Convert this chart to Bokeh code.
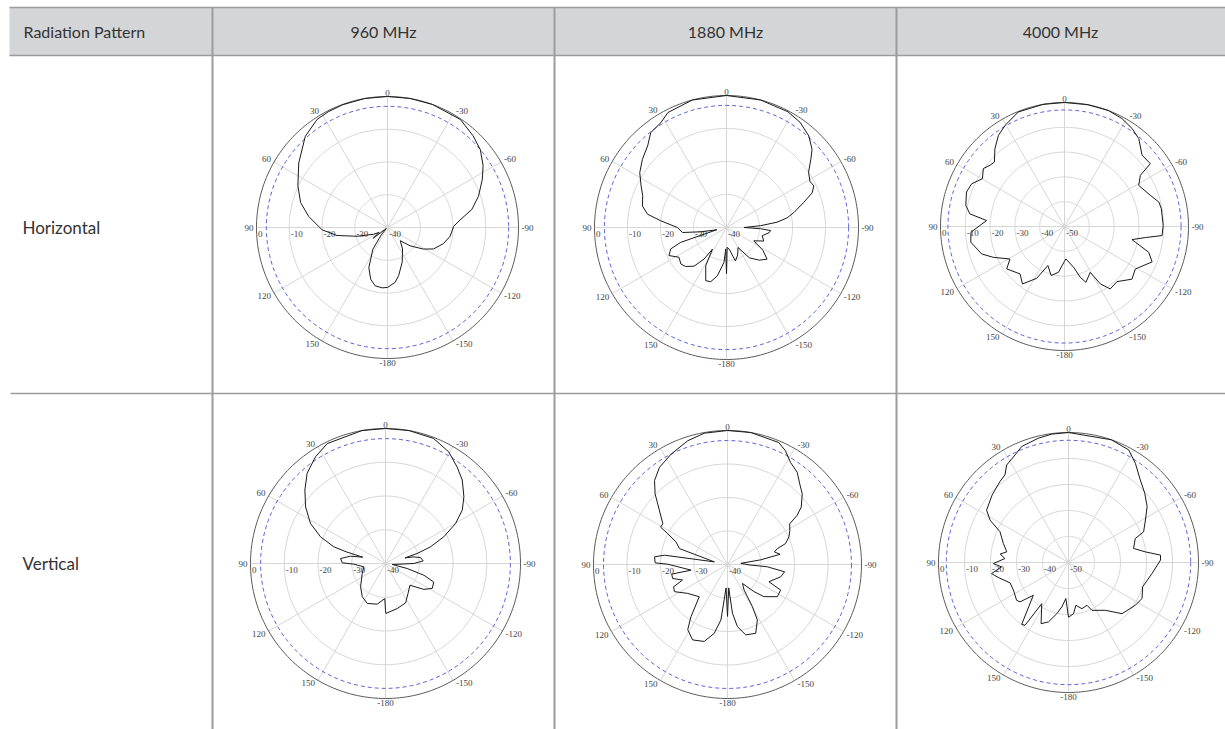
import numpy as np
from bokeh.plotting import figure
from bokeh.models import Range1d
from bokeh.embed import file_html
from bokeh.resources import INLINE
from bokeh.core.properties import value

# ---------------- data ----------------
header_labels = ["Radiation Pattern", "960 MHz", "1880 MHz", "4000 MHz"]
row_labels = ["Horizontal", "Vertical"]

angle_ticks = [0, 30, 60, 90, 120, 150, -180, -150, -120, -90, -60, -30]
angle_tick_labels = ["0", "30", "60", "90", "120", "150", "-180", "-150", "-120", "-90", "-60", "-30"]
radial_ticks_40 = [0, -10, -20, -30, -40]
radial_ticks_50 = [0, -10, -20, -30, -40, -50]

# 960 MHz horizontal (angle in degrees, counter-clockwise from top; gain in dB)
h960_deg = [-180, -172, -167, -157, -145, -136, -129, -121, -115, -106, -98, -89, -84, -78, -71, -63, -57, -50,
            -43, -34, -20, -10, 0, 10, 20, 27, 33, 42, 54, 65, 74, 82, 92, 99, 106, 116, 120, 127, 131, 140,
            146, 152, 155, 162, 168, 175, 180]
h960_db = [-21.7, -23.1, -24.9, -28.5, -32.0, -34.4, -31.1, -27.2, -24.5, -22.2, -20.7, -19.8, -17.7, -13.7,
           -10.6, -7.5, -5.2, -3.0, -1.7, -0.2, 0.0, 0.0, 0.0, 0.0, -0.1, -0.3, -0.6, -2.5, -6.5, -9.8, -12.4,
           -15.7, -20.0, -24.4, -30.3, -35.3, -37.0, -34.5, -39.5, -37.0, -32.0, -29.1, -26.5, -23.4, -21.8,
           -21.5, -21.7]

# 1880 MHz horizontal
h1880_deg = [-180, -178, -173, -165, -158, -150, -143, -135, -128, -122, -116, -110, -103, -97, -94, -92, -90,
             -87, -84, -81, -77.5, -72, -68, -64.5, -61, -56, -51, -47.6, -42, -35, -28, -15, 0, 15, 27, 32,
             38.6, 44, 51, 57.7, 64, 69, 75.6, 80.4, 84.2, 90, 96.5, 99.5, 103, 108, 111, 116, 122, 128.7,
             133.7, 140, 144.6, 147, 151.5, 158.7, 163.8, 169.3, 175.9, 178, 180]
h1880_db = [-26.0, -34.0, -33.4, -29.5, -31.0, -33.0, -28.5, -26.0, -24.4, -27.0, -30.8, -28.0, -28.9, -27.0,
            -26.6, -29.7, -34.7, -29.7, -24.6, -21.4, -19.1, -15.4, -12.0, -10.7, -11.1, -10.0, -7.1, -4.9,
            -2.7, -1.1, -0.3, 0.0, 0.0, 0.0, -0.9, -2.5, -3.2, -5.6, -7.2, -8.9, -11.2, -12.8, -13.7, -15.7,
            -20.0, -25.1, -26.6, -32.1, -37.0, -25.4, -21.9, -20.6, -23.0, -22.3, -22.9, -24.7, -28.3, -32.2,
            -26.8, -22.7, -22.9, -25.1, -29.4, -33.5, -26.0]

# 4000 MHz horizontal
h4000_deg = [-180, -177.6, -167.5, -162.8, -159, -150.7, -148, -143.8, -136.4, -128, -121, -112, -107, -102.5,
             -101, -97.8, -95.3, -89.4, -79.6, -75.5, -70, -61, -56, -53.8, -47.4, -40.2, -34.6, -28, -20.8,
             -11, 0, 10, 22, 30.4, 35.9, 41.8, 47.4, 50.6, 54.5, 59.8, 65.3, 70.6, 77.9, 82.4, 85.6, 89.3, 93.5,
             99.5, 108.3, 113.4, 120.8, 126.3, 136.9, 143.8, 151.8, 156.9, 164.8, 172.5, 180]
h4000_db = [-36.0, -36.9, -33.2, -28.6, -25.9, -28.8, -22.7, -18.8, -19.3, -15.5, -16.7, -11.9, -14.5, -20.7,
            -22.3, -17.1, -10.5, -10.2, -10.3, -10.7, -13.2, -15.8, -13.1, -7.1, -7.5, -3.6, -2.0, -0.7, 0.0,
            0.0, 0.0, 0.0, -0.2, -2.7, -4.6, -7.9, -11.6, -11.1, -9.8, -11.7, -8.8, -8.1, -9.3, -11.5, -18.5,
            -15.9, -12.2, -11.7, -14.8, -18.7, -24.4, -21.1, -23.8, -21.3, -26.3, -32.9, -29.5, -31.4, -36.0]

# 960 MHz vertical
v960_deg = [-180, -179.5, -165.5, -153, -143, -131.7, -124, -118, -111, -107, -103, -98, -93, -90, -86, -80.3,
            -76.5, -74, -72.5, -69.7, -65.4, -60.3, -55.2, -49.6, -42.6, -36.6, -29.6, -21, -10, 0, 10, 25.9,
            33.3, 41, 47.7, 54.7, 61.9, 67.7, 72.1, 73.5, 74.5, 78.2, 83.7, 89.1, 91.2, 98.7, 113.2, 133, 145,
            155.4, 168.4, 178.9, 180]
v960_db = [-26.0, -25.2, -26.2, -26.9, -28.9, -30.3, -26.3, -24.3, -24.7, -28.1, -33.4, -38.0, -36.0, -31.6,
           -28.8, -29.5, -31.6, -34.0, -30.2, -25.8, -21.0, -16.1, -12.3, -9.5, -6.4, -4.4, -2.0, -0.3, 0.0, 0.0,
           0.0, -0.5, -2.2, -4.6, -7.7, -11.0, -14.8, -19.2, -23.9, -28.0, -33.0, -29.4, -26.6, -27.2, -30.6,
           -33.5, -32.5, -29.9, -28.0, -27.0, -27.7, -29.6, -26.0]

# 1880 MHz vertical
v1880_deg = [-180, -177, -174.2, -170.9, -165.5, -157.7, -151.7, -149.4, -147, -141.7, -135.7, -131.4, -122.9,
             -115.7, -112.6, -103, -97.3, -93.3, -91, -85, -82, -79, -75, -72.3, -70.2, -65.8, -61.3, -56.8,
             -54.8, -52.1, -46.6, -41.9, -37.1, -31.7, -27, -22.8, -10, 0, 10, 17.8, 27, 35, 41, 45.7, 50.2,
             57.8, 60.8, 62.7, 66.3, 71.7, 72.8, 78.7, 81.6, 84, 88.7, 89.7, 98.8, 99.8, 104.3, 109, 112.5,
             117.1, 125.9, 138.8, 145, 148.6, 155.2, 163.2, 169.1, 173.2, 176.5, 180]
v1880_db = [-24.5, -33.0, -25.4, -21.2, -18.3, -17.8, -21.2, -25.4, -30.9, -32.8, -28.7, -25.5, -22.3, -22.4,
            -26.6, -23.7, -22.8, -28.1, -33.6, -36.0, -30.0, -24.0, -25.5, -24.4, -21.6, -19.9, -18.8, -17.8,
            -14.6, -12.1, -9.3, -7.7, -5.5, -4.2, -1.9, -0.5, 0.0, 0.0, -0.2, -1.2, -3.0, -4.6, -6.8, -9.8,
            -13.2, -17.2, -17.1, -19.9, -23.2, -24.9, -29.6, -36.0, -21.0, -18.1, -18.4, -22.2, -29.0, -23.1,
            -23.1, -25.8, -22.6, -22.2, -25.3, -27.2, -21.0, -17.2, -15.2, -16.0, -19.1, -23.3, -33.0, -24.5]

# 4000 MHz vertical
v4000_deg = [-180, -174.4, -170.2, -163.8, -156.7, -153.9, -142.4, -133.7, -122.6, -116.1, -108.2, -97.5, -88.5,
             -85.4, -82.1, -77.8, -70.2, -67.8, -61.1, -54.6, -47.8, -41, -34, -28.1, -19.3, 0, 7.4, 13.6, 22,
             26.4, 32.4, 36, 40.3, 48.5, 57.4, 61.6, 65.8, 73.7, 80.2, 83, 86.4, 90.8, 93.7, 98.2, 102.1, 109.2,
             116.7, 126.1, 129.1, 133, 142.9, 145.3, 147, 155.9, 161.4, 167.1, 171.4, 175.8, 180]
v4000_db = [-29.0, -30.2, -33.3, -31.5, -32.1, -29.5, -26.8, -21.5, -19.5, -18.5, -20.0, -17.6, -14.6, -14.5,
            -20.2, -24.4, -22.7, -18.8, -16.2, -12.9, -10.4, -7.9, -4.0, -0.9, 0.0, 0.0, -0.2, -0.8, -1.9, -3.8,
            -5.6, -8.4, -9.2, -10.8, -12.6, -15.7, -21.1, -23.9, -25.9, -23.5, -25.5, -21.1, -24.2, -20.1, -22.4,
            -26.2, -26.3, -25.3, -26.0, -31.5, -20.2, -20.6, -31.1, -24.2, -25.9, -29.8, -32.7, -36.1, -29.0]

patterns = [
    (h960_deg, h960_db), (h1880_deg, h1880_db), (h4000_deg, h4000_db),
    (v960_deg, v960_db), (v1880_deg, v1880_db), (v4000_deg, v4000_db),
]
db_spans = [40, 40, 50, 40, 40, 50]

# ---------------- layout (pixel coordinates of the picture) ----------------
W, H = 1225, 729
X0, Y0 = 0, 0
centers = [(387, 227), (726, 227), (1064, 226), (385, 563), (727, 564), (1068, 562)]
radii = [131, 132, 124, 135, 134, 130]
col_bounds = [9, 212, 554, 896, 1230]
header_top, header_bot = 7, 55
row_sep = 393

LINE = "#9c9ca0"
HEAD_FILL = "#d4d5d7"
TXT = "#333333"
SANS = value("Lato")
SERIF = value("Liberation Serif")

p = figure(width=W, height=H, x_range=Range1d(X0, X0 + W), y_range=Range1d(Y0 + H, Y0),
           output_backend="svg", toolbar_location=None, min_border=0)
p.axis.visible = False
p.xgrid.visible = False
p.ygrid.visible = False
p.outline_line_color = None
p.background_fill_color = "white"

# header band
p.quad(left=[col_bounds[0]], right=[col_bounds[-1]], top=[header_top], bottom=[header_bot],
       fill_color=HEAD_FILL, line_color=None)
p.multi_line(xs=[[col_bounds[0], col_bounds[-1]], [col_bounds[0], col_bounds[-1]], [10, col_bounds[-1]]],
             ys=[[header_top, header_top], [header_bot, header_bot], [row_sep, row_sep]],
             line_color=LINE, line_width=1.5)
p.multi_line(xs=[[x, x] for x in col_bounds[1:-1]], ys=[[header_top, 740]] * 3,
             line_color=LINE, line_width=2)

# header text
p.text(x=[23], y=[31], text=[header_labels[0]], text_font=SANS, text_font_size="16px",
       text_color=TXT, text_align="left", text_baseline="middle")
hx = [(col_bounds[i] + col_bounds[i + 1]) / 2 for i in range(1, 3)] + [1060]
p.text(x=hx, y=[31] * 3, text=header_labels[1:], text_font=SANS, text_font_size="16px",
       text_color=TXT, text_align="center", text_baseline="middle")
# row labels
p.text(x=[22, 22], y=[centers[0][1], centers[3][1]], text=row_labels, text_font=SANS,
       text_font_size="17px", text_color=TXT, text_align="left", text_baseline="middle")

circ = np.linspace(0, 2 * np.pi, 241)

for k, ((cx, cy), R) in enumerate(zip(centers, radii)):
    span = db_spans[k]
    rticks = radial_ticks_40 if span == 40 else radial_ticks_50
    # rings
    ring_xs, ring_ys = [], []
    for lv in rticks[1:-1]:
        rr = R * (1 + lv / span)
        ring_xs.append(list(cx + rr * np.cos(circ)))
        ring_ys.append(list(cy + rr * np.sin(circ)))
    # spokes
    for a in range(0, 360, 30):
        t = np.radians(a)
        ring_xs.append([cx, cx - R * np.sin(t)])
        ring_ys.append([cy, cy - R * np.cos(t)])
    p.multi_line(xs=ring_xs, ys=ring_ys, line_color="#d6d6d6", line_width=1)
    # -3 dB dashed ring
    r3 = R * (1 - 3 / span)
    p.line(cx + r3 * np.cos(circ), cy + r3 * np.sin(circ), line_color="#5a62d8",
           line_width=1, line_dash="4 3")
    # outer ring
    p.line(cx + R * np.cos(circ), cy + R * np.sin(circ), line_color="#5a5a5a", line_width=1)

    # angle labels
    groups = {"right": ([], [], []), "left": ([], [], []), "top": ([], [], []), "bottom": ([], [], [])}
    for a, lab in zip(angle_ticks, angle_tick_labels):
        t = np.radians(a)
        sx, sy = cx - R * np.sin(t), cy - R * np.cos(t)
        if a == 0:
            g = groups["top"]; g[0].append(sx); g[1].append(sy - 1); g[2].append(lab)
        elif a == -180:
            g = groups["bottom"]; g[0].append(sx); g[1].append(sy + 1); g[2].append(lab)
        else:
            dy = -3 * np.sign(np.round(np.cos(t), 6))
            if a > 0:
                g = groups["right"]; g[0].append(sx - 3); g[1].append(sy + dy); g[2].append(lab)
            else:
                g = groups["left"]; g[0].append(sx + 3); g[1].append(sy + dy); g[2].append(lab)
    for key, (gx, gy, gt) in groups.items():
        if key == "top":
            al, bl = "center", "bottom"
        elif key == "bottom":
            al, bl = "center", "top"
        else:
            al, bl = key, "middle"
        p.text(x=gx, y=gy, text=gt, text_font=SERIF, text_font_size="9px", text_color="#444444",
               text_align=al, text_baseline=bl)

    # radial labels
    rx = [cx - R * (1 + lv / span) + 1.5 for lv in rticks]
    p.text(x=rx, y=[cy + 6] * len(rticks), text=[str(lv) for lv in rticks], text_font=SERIF,
           text_font_size="9px", text_color="#444444", text_align="left", text_baseline="middle")

    # pattern curve
    deg, db = patterns[k]
    t = np.radians(np.array(deg, dtype=float))
    r = R * np.clip(1 + np.array(db, dtype=float) / span, 0, None)
    p.line(cx - r * np.sin(t), cy - r * np.cos(t), line_color="#1a1a1a", line_width=1)

open("out.html", "w").write(file_html(p, INLINE))
